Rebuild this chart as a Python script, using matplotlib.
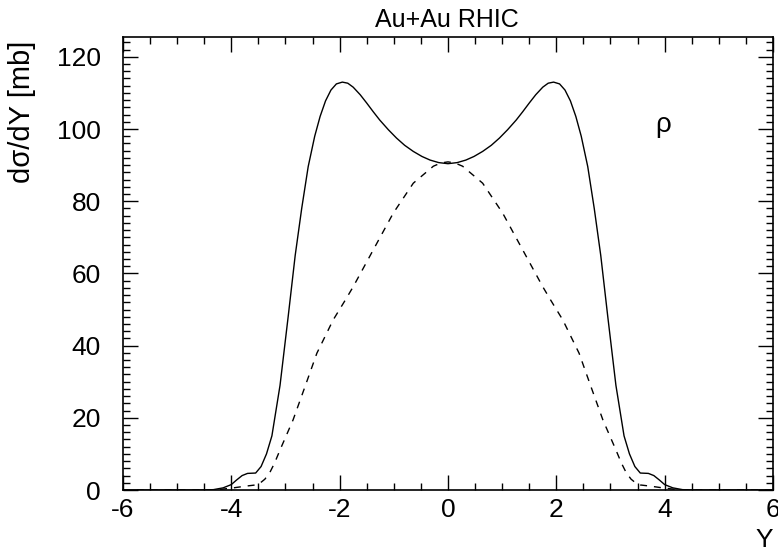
import numpy as np
import matplotlib
matplotlib.use('Agg')
import matplotlib.pyplot as plt
from matplotlib.ticker import MultipleLocator

plt.rcParams['font.family'] = ['Liberation Sans', 'DejaVu Sans']
plt.rcParams['axes.unicode_minus'] = False

# rapidity values and dsigma/dY for the full curve (solid)
y_full = [-6.0, -4.6, -4.33, -4.15, -4.0, -3.9, -3.8, -3.7, -3.55, -3.45, -3.35, -3.25,
          -3.1, -2.95, -2.82, -2.7, -2.58, -2.46, -2.36, -2.26, -2.16, -2.06, -1.95,
          -1.85, -1.75, -1.62, -1.5, -1.38, -1.26, -1.1, -0.95, -0.8, -0.64, -0.48,
          -0.33, -0.17, 0.0,
          0.17, 0.33, 0.48, 0.64, 0.8, 0.95, 1.1, 1.26, 1.38, 1.5, 1.62, 1.75, 1.85,
          1.95, 2.06, 2.16, 2.26, 2.36, 2.46, 2.58, 2.7, 2.82, 2.95, 3.1, 3.25, 3.35,
          3.45, 3.55, 3.7, 3.8, 3.9, 4.0, 4.15, 4.33, 4.6, 6.0]
sig_full = [0.0, 0.0, 0.1, 0.6, 1.5, 2.8, 4.0, 4.6, 4.7, 6.5, 10.0, 15.0,
            29.0, 48.0, 65.0, 78.0, 89.6, 98.0, 103.5, 107.8, 110.8, 112.5, 113.0,
            112.7, 111.6, 109.5, 107.2, 104.8, 102.5, 99.8, 97.5, 95.5, 93.8, 92.4,
            91.4, 90.7, 90.4,
            90.7, 91.4, 92.4, 93.8, 95.5, 97.5, 99.8, 102.5, 104.8, 107.2, 109.5, 111.6,
            112.7, 113.0, 112.5, 110.8, 107.8, 103.5, 98.0, 89.6, 78.0, 65.0, 48.0, 29.0,
            15.0, 10.0, 6.5, 4.7, 4.6, 4.0, 2.8, 1.5, 0.6, 0.1, 0.0, 0.0]

# second contribution (dashed)
y_part = [-6.0, -4.6, -4.27, -3.96, -3.72, -3.55, -3.47, -3.38, -3.29, -3.2, -3.1, -2.86,
          -2.64, -2.42, -2.12, -1.9, -1.75, -1.38, -1.01, -0.64, -0.27, -0.13, 0.0,
          0.13, 0.27, 0.64, 1.01, 1.38, 1.75, 1.9, 2.12, 2.42, 2.64, 2.86, 3.1, 3.2, 3.29,
          3.38, 3.47, 3.55, 3.72, 3.96, 4.27, 4.6, 6.0]
sig_part = [0.0, 0.0, 0.05, 0.6, 1.1, 1.4, 1.9, 3.0, 4.8, 7.5, 11.1, 19.4,
            28.6, 37.9, 47.1, 52.5, 56.3, 66.5, 76.7, 85.0, 89.7, 90.6, 90.9,
            90.6, 89.7, 85.0, 76.7, 66.5, 56.3, 52.5, 47.1, 37.9, 28.6, 19.4, 11.1, 7.5, 4.8,
            3.0, 1.9, 1.4, 1.1, 0.6, 0.05, 0.0, 0.0]

fig = plt.figure(figsize=(7.78, 5.52), dpi=100)
ax = fig.add_axes([0.158, 0.1123, 0.8356, 0.8207])

ax.plot(y_full, sig_full, color='black', lw=1.0)
ax.plot(y_part, sig_part, color='black', lw=1.0, dashes=(5, 5))

ax.set_xlim(-6, 6)
ax.set_ylim(0, 125.5)
ax.xaxis.set_major_locator(MultipleLocator(2))
ax.xaxis.set_minor_locator(MultipleLocator(0.5))
ax.yaxis.set_major_locator(MultipleLocator(20))
ax.yaxis.set_minor_locator(MultipleLocator(2))
ax.tick_params(which='both', direction='in', top=True, right=True, width=1.0,
               labelsize=19)
ax.tick_params(which='major', length=10.8)
ax.tick_params(which='minor', length=5)
ax.tick_params(axis='x', pad=6)
ax.tick_params(axis='y', pad=16)
for s in ax.spines.values():
    s.set_linewidth(1.2)

ax.text(3.97, 99.2, 'ρ', fontsize=20, ha='center', va='baseline')

fig.text(0.575, 0.951, 'Au+Au RHIC', fontsize=18, ha='center', va='baseline')
fig.text(0.028, 0.926, 'dσ/dY [mb]', fontsize=21, rotation=90, ha='center', va='top')
fig.text(0.9936, 0.0, 'Y', fontsize=19, ha='right', va='bottom')

fig.savefig('out.png', dpi=100)
